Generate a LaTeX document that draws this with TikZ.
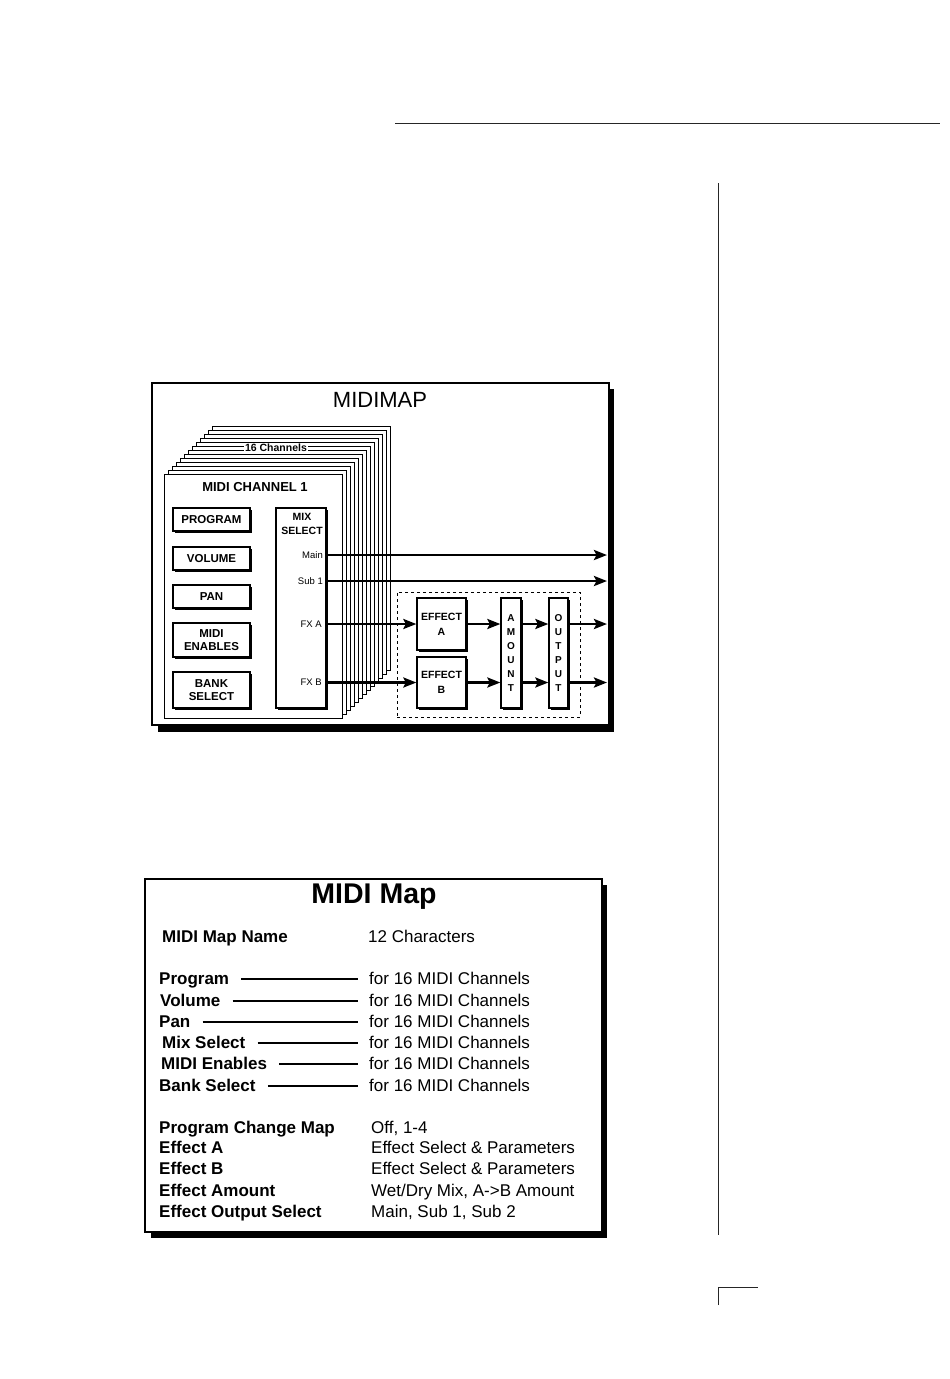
\documentclass[tikz,border=0pt]{standalone}
\usepackage{fontspec}
\setmainfont{Liberation Sans}
\usetikzlibrary{arrows.meta,shadows,calc}
\tikzset{
  rule/.style={line width=1pt, black!85},
  frame/.style={draw, fill=white, line width=1.2pt, inner sep=0pt},
  page/.style={draw, fill=white, line width=1pt},
  bx/.style={draw, fill=white, line width=1.3pt, inner sep=0pt, align=center},
  shbx/.style={bx, drop shadow={shadow xshift=2.2pt, shadow yshift=-2.2pt, fill=black, opacity=1}},
  btn/.style={shbx, font=\fontsize{11.5}{13}\selectfont\bfseries, minimum width=77pt, minimum height=23pt},
  tiny/.style={font=\fontsize{9.5}{10}\selectfont, inner sep=0pt, anchor=east},
  arr/.style={line width=2.7pt, -{Stealth[length=13pt,width=10pt,inset=2.5pt]}},
  lbl/.style={font=\fontsize{17}{20}\selectfont\bfseries, inner sep=0pt, anchor=base west},
  val/.style={font=\fontsize{17}{20}\selectfont, inner sep=0pt, anchor=base west},
  tl/.style={line width=1.1pt},
}
\begin{document}
\begin{tikzpicture}[x=1pt,y=-1pt]
\useasboundingbox[fill=white] (0,0) rectangle (950,1379);
% page rules
\draw[rule] (395,123) -- (940,123);
\draw[rule] (718,183) -- (718,1235);
\draw[rule] (718,1305) -- (718,1287) -- (758,1287);

% ===== MIDIMAP diagram =====
\fill (158,389) rectangle (614,732);
\node[frame, minimum width=457pt, minimum height=342pt] (map) at (380.5,554) {};
\node[font=\fontsize{22}{24}\selectfont] (maptitle) at (380,400) {MIDIMAP};

% stacked channel pages
\foreach \k in {12,...,1}
  \draw[page] ({164+4*\k},{474-4*\k}) rectangle ({342+4*\k},{718-4*\k});
\node[page, minimum width=178pt, minimum height=244pt, inner sep=0pt] (ch1) at (253,596) {};
\node[fill=white, inner sep=1.5pt, font=\fontsize{10.5}{11}\selectfont\bfseries] (chn) at (276,448) {16 Channels};
\node[font=\fontsize{13}{14}\selectfont\bfseries] (ch1t) at (255,487) {MIDI CHANNEL 1};

% parameter buttons
\node[btn] (prog) at (211.5,519.5) {PROGRAM};
\node[btn] (vol) at (211.5,558.5) {VOLUME};
\node[btn] (pan) at (211.5,596.5) {PAN};
\node[btn, minimum height=34pt] (men) at (211.5,640) {MIDI\\ENABLES};
\node[btn, minimum height=36pt] (bank) at (211.5,690) {BANK\\SELECT};

% mix select
\node[shbx, minimum width=50pt, minimum height=200pt] (mix) at (301,608) {};
\node[font=\fontsize{10.5}{14}\selectfont\bfseries, align=center] (mixt) at (302,524) {MIX\\SELECT};
\node[tiny] (lmain) at (323,555) {Main};
\node[tiny] (lsub) at (323,581) {Sub 1};
\node[tiny] (lfxa) at (322,624) {FX A};
\node[tiny] (lfxb) at (322,682.5) {FX B};

% effects group
\node[draw, dashed, line width=0.9pt, minimum width=183pt, minimum height=125pt, inner sep=0pt] (fxgrp) at (488.5,654.5) {};
\node[shbx, minimum width=49pt, minimum height=52pt, font=\fontsize{10.5}{15}\selectfont\bfseries] (effA) at (441.5,624) {EFFECT\\A};
\node[shbx, minimum width=49pt, minimum height=51pt, font=\fontsize{10.5}{15}\selectfont\bfseries] (effB) at (441.5,682.5) {EFFECT\\B};
\node[shbx, minimum width=20pt, minimum height=110pt, font=\fontsize{10}{14}\selectfont\bfseries] (amt) at (511,653) {A\\M\\O\\U\\N\\T};
\node[shbx, minimum width=19pt, minimum height=110pt, font=\fontsize{10}{14}\selectfont\bfseries] (outp) at (558.5,653) {O\\U\\T\\P\\U\\T};

\coordinate (mainend) at (607,555);
\coordinate (subend) at (607,581);
\coordinate (fxaend) at (607,624);
\coordinate (fxbend) at (607,682.5);

\draw[arr] (mix.east |- lmain) -- (mainend);
\draw[arr] (mix.east |- lsub) -- (subend);
\draw[arr] (mix.east |- effA.west) -- (effA.west);
\draw[arr] (mix.east |- effB.west) -- (effB.west);
\draw[arr] (effA.east) -- (amt.west |- effA.east);
\draw[arr] (effB.east) -- (amt.west |- effB.east);
\draw[arr] (amt.east |- effA.east) -- (outp.west |- effA.east);
\draw[arr] (amt.east |- effB.east) -- (outp.west |- effB.east);
\draw[arr] (outp.east |- effA.east) -- (fxaend);
\draw[arr] (outp.east |- effB.east) -- (fxbend);

% ===== MIDI Map table =====
\fill (151,885) rectangle (607,1238);
\node[frame, minimum width=457pt, minimum height=353pt] (tbl) at (373.5,1055.5) {};
\node[font=\fontsize{28.5}{30}\selectfont\bfseries] (ttl) at (374,897) {MIDI Map};

\node[lbl] (name) at (162,942) {MIDI Map Name};
\node[val] (namev) at (368,942) {12 Characters};

\node[lbl] (prg) at (159,984) {Program};
\node[lbl] (vlm) at (160,1006) {Volume};
\node[lbl] (pn) at (159,1027) {Pan};
\node[lbl] (mxs) at (162,1048) {Mix Select};
\node[lbl] (mde) at (161,1069) {MIDI Enables};
\node[lbl] (bks) at (159,1091) {Bank Select};
\node[val] (prgv) at (369,984) {for 16 MIDI Channels};
\node[val] (vlmv) at (369,1006) {for 16 MIDI Channels};
\node[val] (pnv) at (369,1027) {for 16 MIDI Channels};
\node[val] (mxsv) at (369,1048) {for 16 MIDI Channels};
\node[val] (mdev) at (369,1069) {for 16 MIDI Channels};
\node[val] (bksv) at (369,1091) {for 16 MIDI Channels};
\foreach \a in {prg,vlm,pn,mxs,mde,bks}
  \draw[tl] ([shift={(12,-5)}]\a.base east) -- ([shift={(-11,-5)}]\a v.base west);

\node[lbl] (pcm) at (159,1133) {Program Change Map};
\node[lbl] (efa) at (159,1153) {Effect A};
\node[lbl] (efb) at (159,1174) {Effect B};
\node[lbl] (efm) at (159,1196) {Effect Amount};
\node[lbl] (efo) at (159,1217) {Effect Output Select};
\node[val] (pcmv) at (371,1133) {Off, 1-4};
\node[val] (efav) at (371,1153) {Effect Select \& Parameters};
\node[val] (efbv) at (371,1174) {Effect Select \& Parameters};
\node[val] (efmv) at (371,1196) {Wet/Dry Mix, A->B Amount};
\node[val] (efov) at (371,1217) {Main, Sub 1, Sub 2};
\end{tikzpicture}
\end{document}
